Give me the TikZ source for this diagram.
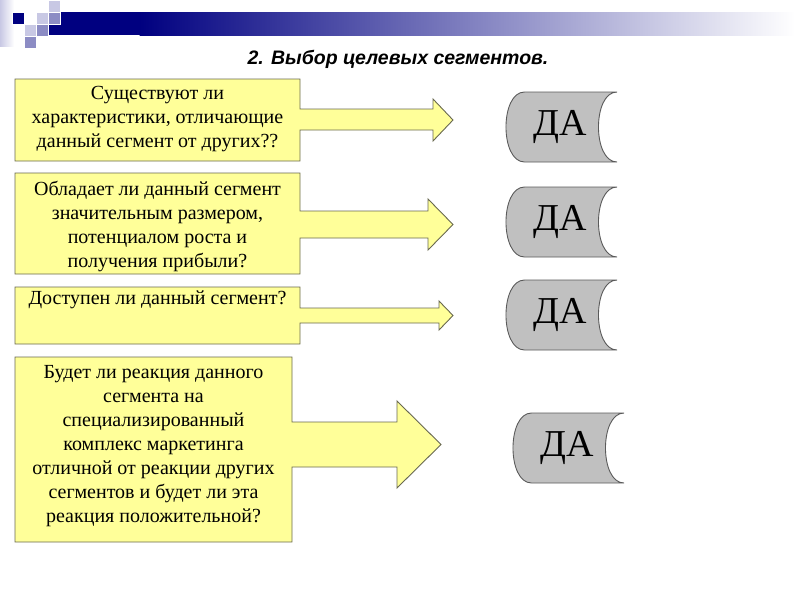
\documentclass[tikz,border=0pt]{standalone}
\usepackage{fontspec}
\setmainfont{Liberation Serif}
\newfontfamily\titlefont{Liberation Sans}
\definecolor{boxfill}{HTML}{FFFF99}
\definecolor{boxline}{RGB}{105,105,80}
\definecolor{dafill}{HTML}{C0C0C0}
\definecolor{daline}{RGB}{90,90,90}
\definecolor{navy}{HTML}{000080}
\definecolor{sqlight}{HTML}{C8C8E4}
\definecolor{sqmid}{HTML}{8C8CC4}
\tikzset{
  callout/.style={fill=boxfill, draw=boxline, line width=0.9pt, line join=miter},
  boxtext/.style={font=\fontsize{20}{24}\selectfont, align=center, inner sep=0pt},
  dashape/.style={fill=dafill, draw=daline, line width=0.9pt},
  datext/.style={font=\fontsize{38}{40}\selectfont, inner sep=0pt},
  sq/.style={draw=white, line width=0.8pt}
}
\newcommand{\storeddata}[4]{% x, top, bottom, name
  \draw[dashape] (#1+18.5,-#2) -- (#1+111,-#2)
     .. controls (#1+86.3,-#2) and (#1+86.3,-#3) .. (#1+111,-#3)
     -- (#1+18.5,-#3)
     .. controls (#1-6.2,-#3) and (#1-6.2,-#2) .. (#1+18.5,-#2) -- cycle;
  \node[datext] (#4) at (#1+54,{-(#2+#3)/2}) {ДА};
}
\begin{document}
\begin{tikzpicture}[x=1pt,y=1pt]
\useasboundingbox (0,0) rectangle (800,-600);
% header
\shade[left color=sqlight, right color=white] (0,0) rectangle (14,-46);
\fill[navy] (48,-12) rectangle (140,-35);
\shade[left color=navy, right color=white] (139.5,-12) rectangle (795,-35);
\filldraw[sq, fill=sqlight] (48,0) rectangle (60,-12);
\filldraw[sq, fill=navy] (12,-12) rectangle (24,-24);
\filldraw[sq, fill=sqlight] (36,-12) rectangle (48,-24);
\filldraw[sq, fill=sqmid] (48,-12) rectangle (60,-24);
\filldraw[sq, fill=sqlight] (24,-24) rectangle (36,-36);
\filldraw[sq, fill=sqmid] (36,-24) rectangle (48,-36);
\filldraw[sq, fill=sqmid] (24,-36) rectangle (36,-48);
% title
\node[font=\titlefont\bfseries\itshape\fontsize{19.5}{21}\selectfont, anchor=base] (title) at (398,-64) {2. Выбор целевых сегментов.};
% callouts
\draw[callout] (15,-79) -- (300,-79) -- (300,-109) -- (433,-109) -- (433,-99) -- (453,-120) -- (433,-141) -- (433,-130) -- (300,-130) -- (300,-161) -- (15,-161) -- cycle;
\draw[callout] (15,-173) -- (300,-173) -- (300,-211) -- (428,-211) -- (428,-199) -- (453,-224.5) -- (428,-250) -- (428,-238) -- (300,-238) -- (300,-274) -- (15,-274) -- cycle;
\draw[callout] (15,-287) -- (300,-287) -- (300,-308) -- (439,-308) -- (439,-301) -- (453,-315.5) -- (439,-330) -- (439,-323) -- (300,-323) -- (300,-344) -- (15,-344) -- cycle;
\draw[callout] (15,-357) -- (292,-357) -- (292,-422) -- (397,-422) -- (397,-401) -- (441,-444.5) -- (397,-488) -- (397,-467) -- (292,-467) -- (292,-542) -- (15,-542) -- cycle;
\node[boxtext] (q1) at (157.5,-119) {Существуют ли\\характеристики, отличающие\\данный сегмент от других??};
\node[boxtext] (q2) at (157.5,-226) {Обладает ли данный сегмент\\значительным размером,\\потенциалом роста и\\получения прибыли?};
\node[boxtext, anchor=north] (q3) at (157.5,-291) {Доступен ли данный сегмент?};
\node[boxtext] (q4) at (153.5,-446) {Будет ли реакция данного\\сегмента на\\специализированный\\комплекс маркетинга\\отличной от реакции других\\сегментов и будет ли эта\\реакция положительной?};
% DA shapes
\storeddata{506}{92}{162}{da1}
\storeddata{506}{187}{257}{da2}
\storeddata{506}{280}{350}{da3}
\storeddata{513}{413}{483}{da4}
\end{tikzpicture}
\end{document}
